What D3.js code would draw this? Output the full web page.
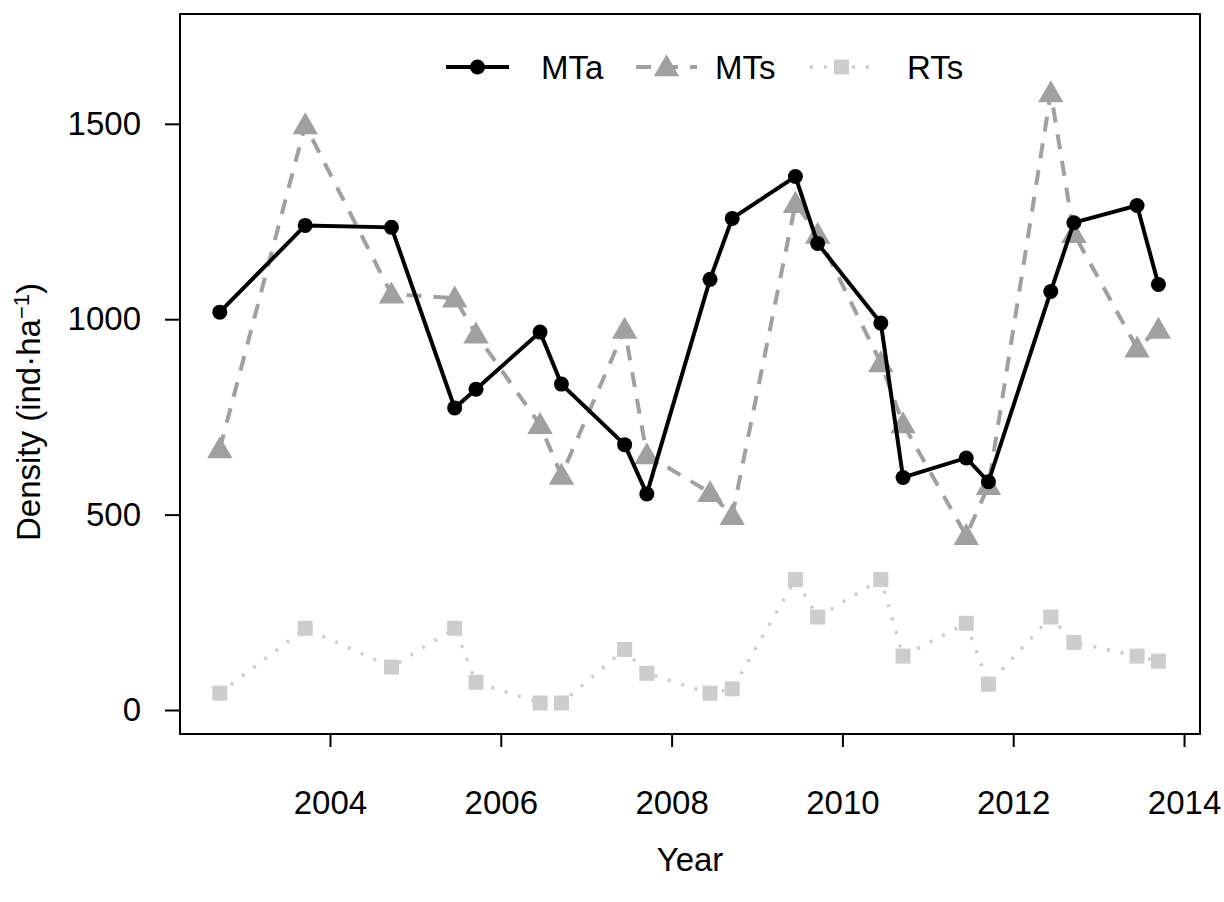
<!DOCTYPE html>
<html>
<head>
<meta charset="utf-8">
<script src="https://cdn.jsdelivr.net/npm/d3@7"></script>
<style>
  html, body { margin: 0; padding: 0; background: #fff; }
  svg text { font-family: "Liberation Sans", Arial, Helvetica, sans-serif; }
</style>
</head>
<body>
<svg id="chart" width="1224" height="902"></svg>
<script>
// ---- data ----
const times = [2002.71, 2003.71, 2004.72, 2005.46, 2005.71, 2006.46, 2006.71, 2007.45, 2007.71,
               2008.45, 2008.71, 2009.45, 2009.71, 2010.45, 2010.71, 2011.45, 2011.71,
               2012.44, 2012.71, 2013.45, 2013.70];
const MTa = [1018, 1240, 1235, 773, 821, 967, 834, 679, 553, 1102, 1258, 1365, 1194, 990, 595,
             645, 584, 1071, 1247, 1291, 1089];
const MTs = [668, 1497, 1064, 1054, 962, 730, 600, 974, 653, 556, 497, 1296, 1217, 888, 732,
             446, 574, 1579, 1219, 926, 974];
const RTs = [43, 209, 110, 209, 71, 18, 18, 155, 94, 43, 54, 334, 238, 334, 138, 222, 66,
             238, 173, 138, 125];
const xTicks = [2004, 2006, 2008, 2010, 2012, 2014];
const yTicks = [0, 500, 1000, 1500];
const seriesNames = ["MTa", "MTs", "RTs"];

// ---- layout ----
const svg = d3.select("#chart");
const L = 180, R = 1200, T = 14, B = 734;
const x = d3.scaleLinear().domain([2002.244, 2014.187]).range([L, R]);
const y = d3.scaleLinear().domain([-61.4, 1781]).range([B, T]);
const fontSize = 33;

// box
svg.append("rect").attr("x", L).attr("y", T).attr("width", R - L).attr("height", B - T)
  .attr("fill", "none").attr("stroke", "#000").attr("stroke-width", 2);

// axes
const xAxis = svg.append("g").attr("transform", `translate(0,${B})`)
  .call(d3.axisBottom(x).tickValues(xTicks).tickFormat(d3.format("d")).tickSize(13).tickPadding(44));
const yAxis = svg.append("g").attr("transform", `translate(${L},0)`)
  .call(d3.axisLeft(y).tickValues(yTicks).tickFormat(d3.format("d")).tickSize(15).tickPadding(24));
[xAxis, yAxis].forEach(g => {
  g.select(".domain").remove();
  g.selectAll(".tick line").attr("stroke", "#000").attr("stroke-width", 2);
  g.selectAll(".tick text").attr("fill", "#000").style("font-size", fontSize + "px");
});

// axis titles
svg.append("text").attr("x", (L + R) / 2).attr("y", 871).attr("text-anchor", "middle")
  .style("font-size", fontSize + "px").text("Year");
const yl = svg.append("text").attr("transform", "translate(40,412) rotate(-90)")
  .attr("text-anchor", "middle").style("font-size", fontSize + "px");
yl.append("tspan").text("Density (ind·ha");
yl.append("tspan").attr("dy", -11).style("font-size", "22px").text("−1");
yl.append("tspan").attr("dy", 11).text(")");

// series styling
const styles = {
  MTa: { color: "#000000", dash: null, width: 4 },
  MTs: { color: "#a0a0a0", dash: "15 12", width: 4 },
  RTs: { color: "#cdcdcd", dash: "3 11", width: 3.5 }
};
const data = { MTa, MTs, RTs };
const line = d3.line().x(d => x(d[0])).y(d => y(d[1]));

const triPath = d3.symbol().type(d3.symbolTriangle).size(280)();
function drawMarker(g, name, cx, cy) {
  const s = styles[name];
  if (name === "MTa") {
    g.append("circle").attr("cx", cx).attr("cy", cy).attr("r", 7.5).attr("fill", s.color);
  } else if (name === "MTs") {
    g.append("path").attr("d", triPath).attr("transform", `translate(${cx},${cy + 2})`).attr("fill", s.color);
  } else {
    g.append("rect").attr("x", cx - 7.5).attr("y", cy - 7.5).attr("width", 15).attr("height", 15).attr("fill", s.color);
  }
}

// draw in reverse order so MTa is on top
["RTs", "MTs", "MTa"].forEach(name => {
  const s = styles[name];
  const pts = times.map((t, i) => [t, data[name][i]]);
  const g = svg.append("g");
  g.append("path").attr("d", line(pts)).attr("fill", "none").attr("stroke", s.color)
    .attr("stroke-width", s.width).attr("stroke-dasharray", s.dash);
  pts.forEach(p => drawMarker(g, name, x(p[0]), y(p[1])));
});

// legend
const legendItems = [
  { name: "MTa", x0: 446, x1: 509, tx: 541 },
  { name: "MTs", x0: 636, x1: 697, tx: 715 },
  { name: "RTs", x0: 810, x1: 873, tx: 907 }
];
const ly = 67;
const lg = svg.append("g");
legendItems.forEach(it => {
  const s = styles[it.name];
  lg.append("line").attr("x1", it.x0).attr("x2", it.x1).attr("y1", ly).attr("y2", ly)
    .attr("stroke", s.color).attr("stroke-width", s.width).attr("stroke-dasharray", s.name === "MTs" ? "12 8" : s.dash);
  drawMarker(lg, it.name, (it.x0 + it.x1) / 2, ly);
  lg.append("text").attr("x", it.tx).attr("y", ly + 12).style("font-size", fontSize + "px").text(it.name);
});
</script>
</body>
</html>
